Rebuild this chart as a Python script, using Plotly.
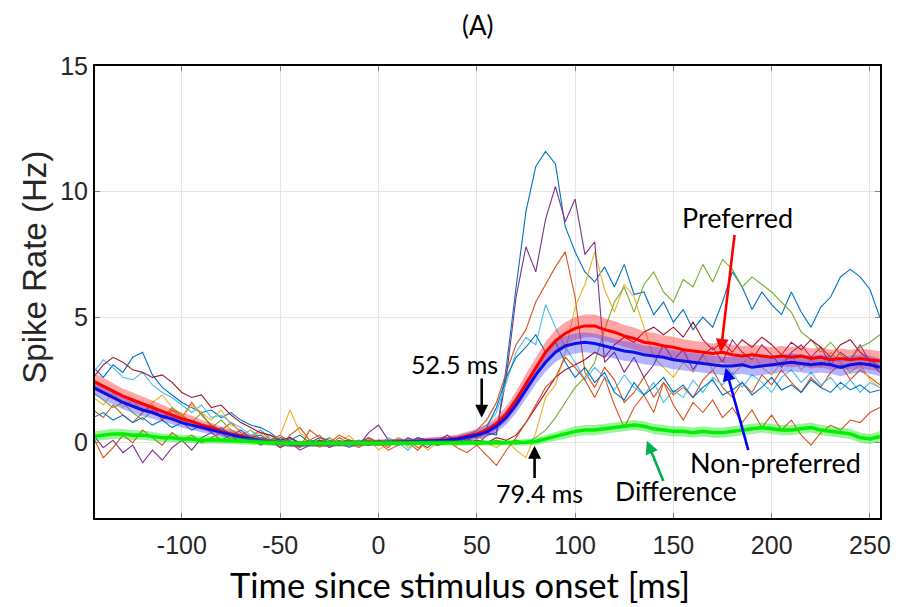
import plotly.graph_objects as go

# time axis (ms), 5 ms steps from -145 to 255
t_start, t_step, n_pts = -145, 5, 81
time_ms = [t_start + i * t_step for i in range(n_pts)]

# individual neuron traces (Hz)
neuron_blue_a = [3.0, 2.6, 3.1, 2.8, 3.4, 3.6, 2.7, 2.2, 1.9, 1.6,
                 1.4, 1.2, 1.3, 1.0, 1.2, 0.9, 0.7, 0.6, 0.4, 0.1,
                 0.2, -0.1, 0.1, 0.0, -0.1, 0.1, -0.2, 0.0, 0.1, -0.1,
                 0.0, 0.1, -0.1, 0.2, 0.0, 0.1, 0.2, 0.1, 0.3, 0.2,
                 0.4, 0.3, 3.0, 6.2, 9.2, 11.0, 11.6, 11.1, 8.6, 7.6,
                 6.8, 6.4, 7.0, 6.2, 7.1, 5.9, 6.0, 5.1, 5.6, 4.8,
                 5.3, 4.5, 5.0, 4.6, 5.6, 6.8, 6.2, 5.3, 6.0, 5.5,
                 5.1, 6.0, 5.2, 4.6, 5.4, 5.8, 6.6, 6.9, 6.6, 6.1,
                 5.0]
neuron_orange_a = [1.3, 1.0, 1.5, 1.1, 0.8, 1.2, 1.5, 0.9, 1.3, 1.0,
                   1.6, 1.1, 0.7, 0.5, 0.8, 0.4, 0.2, 0.5, 0.1, -0.2,
                   0.3, 0.6, 0.1, 0.3, -0.1, 0.2, 0.0, -0.2, 0.1, 0.0,
                   -0.2, 0.2, 0.0, -0.3, 0.1, 0.0, 0.3, 0.1, 0.2, 0.5,
                   0.9, 1.6, 2.8, 3.9, 4.5, 5.6, 6.3, 7.0, 7.6, 5.8,
                   2.8, 2.2, 3.0, 2.5, 1.6, 2.0, 2.6, 1.8, 2.4, 1.9,
                   2.2, 1.8, 2.5, 2.9, 2.2, 1.8, 2.4, 2.0, 2.7, 2.3,
                   2.9, 2.4, 2.0, 2.6, 2.2, 2.8, 3.1, 2.5, 2.9, 2.6,
                   2.3]
neuron_yellow = [1.8, 1.5, 2.0, 1.4, 1.7, 1.2, 1.6, 1.9, 1.4, 1.0,
                 1.5, 1.2, 0.9, 1.3, 0.7, 0.5, 0.2, 0.4, 0.0, 0.3,
                 1.3, 0.4, 0.1, -0.2, 0.2, 0.0, 0.3, -0.1, 0.2, -0.3,
                 0.0, 0.2, -0.2, 0.1, -0.3, 0.0, 0.2, -0.1, 0.1, 0.3,
                 0.0, -0.2, 0.1, -0.3, -0.6, 0.4, 1.8, 2.3, 3.6, 5.4,
                 6.3, 7.6, 6.1, 5.2, 6.3, 5.8, 4.6, 3.4, 3.0, 2.6,
                 3.2, 2.8, 3.5, 2.9, 3.3, 2.7, 3.1, 3.6, 3.0, 2.7,
                 3.2, 3.5, 2.9, 3.3, 3.0, 3.6, 3.2, 2.8, 3.1, 2.5,
                 2.2]
neuron_purple = [0.3, -0.2, 0.1, -0.4, -0.1, -0.8, -0.3, -0.7, -0.2, 0.1,
                 -0.3, 0.2, 0.4, 0.1, 0.3, 0.0, 0.2, -0.1, 0.1, -0.2,
                 0.0, -0.3, -0.1, 0.1, -0.2, 0.0, 0.1, -0.1, 0.4, 0.7,
                 0.1, -0.1, 0.2, 0.0, -0.2, 0.1, 0.3, 0.0, 0.2, -0.1,
                 0.3, 0.4, 2.6, 5.8, 7.8, 6.8, 8.9, 10.2, 8.8, 9.7,
                 7.5, 8.0, 3.2, 3.6, 2.8, 3.4, 2.6, 3.1, 3.9, 3.3,
                 3.7, 2.9, 3.5, 3.8, 3.2, 4.1, 3.6, 3.3, 3.9, 3.5,
                 3.0, 3.6, 3.9, 3.4, 3.8, 3.1, 3.6, 3.3, 3.9, 3.2,
                 2.8]
neuron_green = [2.0, 1.7, 1.4, 1.6, 1.2, 0.9, 1.3, 1.0, 1.4, 1.1,
                0.8, 1.2, 0.6, 0.9, 0.5, 0.3, 0.5, 0.1, 0.3, 0.0,
                0.2, -0.1, 0.1, 0.0, 0.2, -0.1, 0.0, 0.1, -0.1, 0.0,
                0.1, -0.1, 0.0, 0.1, 0.0, -0.1, 0.1, 0.0, 0.1, -0.1,
                0.0, 0.1, 0.0, 0.1, 0.0, 0.2, 0.5, 1.0, 1.6, 2.2,
                2.6, 3.2, 4.5, 5.6, 6.2, 5.2, 6.3, 6.8, 6.0, 5.6,
                6.5, 6.2, 7.1, 6.4, 7.3, 6.9, 6.2, 6.6, 6.3, 6.0,
                5.6, 5.2, 4.4, 4.1, 3.6, 4.0, 3.5, 3.3, 3.8, 4.0,
                4.3]
neuron_lightblue = [2.8, 3.3, 3.0, 2.6, 2.5, 2.8, 2.3, 2.0, 1.8, 1.5,
                    1.2, 1.5, 1.0, 1.1, 0.8, 0.6, 0.3, 0.5, 0.2, 0.0,
                    0.1, -0.2, 0.0, 0.1, -0.1, 0.0, -0.2, 0.1, 0.0, -0.1,
                    0.2, 0.0, -0.3, 0.1, -0.1, 0.0, 0.2, 0.1, 0.3, 0.5,
                    0.7, 1.2, 2.4, 3.6, 4.2, 3.9, 5.5, 4.6, 3.8, 3.2,
                    2.5, 3.0, 2.6, 2.1, 2.7, 2.2, 1.9, 2.4, 1.6, 2.1,
                    1.8, 2.5, 2.0, 2.6, 2.3, 2.8, 2.2, 2.7, 2.4, 2.0,
                    2.6, 2.9, 2.4, 2.8, 2.3, 2.6, 2.1, 2.5, 2.0, 2.4,
                    2.2]
neuron_darkred = [2.6, 3.1, 3.4, 3.2, 2.9, 2.8, 2.6, 2.7, 2.4, 2.0,
                  1.8, 1.9, 1.4, 1.5, 1.1, 0.8, 0.6, 0.4, 0.3, 0.1,
                  0.2, 0.0, -0.1, 0.1, 0.0, -0.1, 0.1, 0.0, -0.1, 0.1,
                  0.0, -0.1, 0.1, 0.0, 0.1, -0.1, 0.0, 0.1, 0.0, 0.1,
                  0.0, 0.2, 0.1, 0.3, 0.8, 1.4, 2.0, 2.6, 2.9, 3.1,
                  3.3, 3.6, 3.4, 3.9, 4.2, 4.0, 4.4, 4.6, 4.3, 4.6,
                  4.2, 4.8, 4.1, 3.7, 4.0, 3.6, 4.1, 3.8, 4.2, 3.9,
                  3.5, 4.0, 3.7, 4.1, 3.8, 3.4, 3.9, 4.1, 3.6, 3.3,
                  3.0]
neuron_blue_b = [1.0, 1.2, 0.9, 1.1, 0.8, 1.0, 0.7, 0.9, 0.6, 0.8,
                 0.5, 0.7, 0.4, 0.6, 0.3, 0.5, 0.2, 0.3, 0.0, 0.2,
                 0.1, 0.3, 0.0, 0.2, 0.1, -0.1, 0.1, 0.0, 0.2, 0.0,
                 -0.1, 0.1, 0.0, 0.2, 0.1, -0.1, 0.0, 0.2, 0.1, 0.3,
                 0.6, 1.4, 2.6, 3.4, 3.8, 4.3, 3.6, 4.0, 3.2, 2.6,
                 3.0, 2.4, 2.8, 2.0, 1.7, 2.4, 1.9, 2.2, 2.6, 2.0,
                 2.3, 1.8, 2.2, 2.5, 1.9, 2.1, 2.4, 1.9, 2.2, 2.6,
                 2.1, 2.3, 2.0, 2.5, 2.2, 2.0, 2.4, 2.1, 2.3, 2.0,
                 2.1]
neuron_orange_b = [0.2, -0.6, -0.2, 0.3, 0.0, 0.5, 0.2, -0.1, 0.4, 0.1,
                   0.3, 0.0, 0.2, 0.4, 0.1, 0.3, 0.0, 0.2, 0.1, 0.3,
                   0.0, -0.2, 0.5, 0.2, 0.0, 0.3, 0.1, -0.1, 0.2, 0.0,
                   -0.3, -0.1, 0.1, -0.2, 0.0, -0.1, 0.1, -0.2, -0.4, -0.1,
                   -0.5, -0.9, -0.3, 0.2, 0.8, 1.5, 2.2, 2.6, 3.4, 3.0,
                   2.5, 1.8, 2.6, 1.5, 0.6, 1.4, 1.9, 1.2, 2.4, 1.5,
                   0.9, 1.6, 1.2, 1.7, 1.0, 1.4, 0.8, 1.3, 0.6, 1.1,
                   0.5, 0.9, 0.3, -0.1, 0.4, 0.7, 0.5, 0.9, 0.8, 1.2,
                   1.4]

neurons = [neuron_blue_a, neuron_orange_a, neuron_yellow, neuron_purple,
           neuron_green, neuron_lightblue, neuron_darkred, neuron_blue_b,
           neuron_orange_b]
neuron_colors = ["#0072BD", "#D95319", "#EDB120", "#7E2F8E", "#77AC30",
                 "#4DBEEE", "#A2142F", "#0072BD", "#D95319"]

# population means and SEM (Hz)
preferred_mean = [2.45, 2.25, 2.05, 1.85, 1.7, 1.55, 1.4, 1.25, 1.1, 0.95,
                  0.85, 0.7, 0.6, 0.45, 0.35, 0.25, 0.15, 0.08, 0.03, 0.0,
                  -0.05, -0.05, -0.03, -0.05, -0.05, -0.02, -0.05, -0.02, 0.0, 0.0,
                  0.02, 0.03, 0.05, 0.05, 0.08, 0.1, 0.12, 0.18, 0.25, 0.35,
                  0.5, 0.75, 1.15, 1.7, 2.35, 3.0, 3.6, 4.05, 4.35, 4.55,
                  4.65, 4.65, 4.5, 4.4, 4.25, 4.15, 4.0, 3.95, 3.85, 3.8,
                  3.7, 3.65, 3.6, 3.55, 3.6, 3.5, 3.45, 3.5, 3.45, 3.4,
                  3.45, 3.4, 3.45, 3.35, 3.4, 3.3, 3.35, 3.3, 3.35, 3.3,
                  3.25]
preferred_sem = [0.35, 0.33, 0.32, 0.30, 0.30, 0.28, 0.27, 0.26, 0.25, 0.24,
                 0.22, 0.20, 0.19, 0.18, 0.17, 0.16, 0.15, 0.14, 0.13, 0.12,
                 0.12, 0.12, 0.12, 0.12, 0.12, 0.12, 0.12, 0.12, 0.12, 0.12,
                 0.12, 0.12, 0.12, 0.12, 0.13, 0.13, 0.14, 0.15, 0.17, 0.19,
                 0.22, 0.26, 0.30, 0.34, 0.38, 0.40, 0.42, 0.44, 0.45, 0.45,
                 0.45, 0.45, 0.45, 0.45, 0.44, 0.44, 0.43, 0.43, 0.42, 0.42,
                 0.42, 0.41, 0.41, 0.40, 0.40, 0.40, 0.40, 0.40, 0.40, 0.40,
                 0.40, 0.40, 0.40, 0.40, 0.40, 0.40, 0.40, 0.40, 0.40, 0.40,
                 0.40]
nonpref_mean = [2.2, 2.0, 1.8, 1.6, 1.45, 1.3, 1.2, 1.05, 0.95, 0.8,
                0.7, 0.6, 0.5, 0.4, 0.3, 0.22, 0.15, 0.08, 0.03, 0.0,
                -0.05, -0.05, -0.05, -0.05, -0.05, -0.03, -0.05, -0.03, -0.02, 0.0,
                0.02, 0.03, 0.04, 0.05, 0.07, 0.09, 0.1, 0.15, 0.22, 0.3,
                0.42, 0.65, 1.0, 1.5, 2.1, 2.7, 3.2, 3.6, 3.85, 3.95,
                4.0, 3.95, 3.85, 3.75, 3.65, 3.6, 3.5, 3.45, 3.4, 3.3,
                3.25, 3.2, 3.15, 3.1, 3.05, 3.05, 3.1, 3.0, 3.05, 3.1,
                3.15, 3.2, 3.15, 3.1, 3.15, 3.1, 3.0, 3.1, 3.15, 3.1,
                3.0]
nonpref_sem = [0.30, 0.29, 0.28, 0.27, 0.26, 0.25, 0.24, 0.23, 0.22, 0.21,
               0.20, 0.18, 0.17, 0.16, 0.15, 0.14, 0.13, 0.12, 0.12, 0.11,
               0.11, 0.11, 0.11, 0.11, 0.11, 0.11, 0.11, 0.11, 0.11, 0.11,
               0.11, 0.11, 0.11, 0.11, 0.12, 0.12, 0.13, 0.14, 0.16, 0.18,
               0.20, 0.24, 0.28, 0.32, 0.35, 0.37, 0.38, 0.39, 0.40, 0.40,
               0.40, 0.40, 0.40, 0.40, 0.39, 0.39, 0.38, 0.38, 0.38, 0.38,
               0.37, 0.37, 0.37, 0.37, 0.36, 0.36, 0.36, 0.36, 0.36, 0.36,
               0.36, 0.36, 0.36, 0.36, 0.36, 0.36, 0.36, 0.36, 0.36, 0.36,
               0.36]
diff_mean = [0.25, 0.3, 0.35, 0.35, 0.3, 0.3, 0.25, 0.2, 0.2, 0.15,
             0.15, 0.1, 0.12, 0.1, 0.08, 0.05, 0.05, 0.02, 0.0, -0.02,
             -0.03, -0.02, -0.03, -0.02, -0.03, -0.02, -0.02, -0.03, -0.02, -0.02,
             -0.02, -0.01, -0.02, -0.02, -0.01, 0.0, 0.0, 0.0, 0.0, 0.0,
             0.0, 0.0, 0.0, 0.0, 0.02, 0.05, 0.15, 0.25, 0.35, 0.45,
             0.5, 0.5, 0.55, 0.6, 0.65, 0.7, 0.65, 0.55, 0.5, 0.45,
             0.45, 0.4, 0.45, 0.4, 0.4, 0.45, 0.5, 0.55, 0.6, 0.55,
             0.5, 0.5, 0.55, 0.6, 0.5, 0.45, 0.4, 0.35, 0.2, 0.15,
             0.25]
diff_sem = [0.20, 0.20, 0.20, 0.19, 0.19, 0.18, 0.18, 0.17, 0.17, 0.16,
            0.16, 0.15, 0.15, 0.14, 0.14, 0.13, 0.13, 0.12, 0.12, 0.11,
            0.11, 0.11, 0.11, 0.11, 0.11, 0.11, 0.11, 0.11, 0.11, 0.11,
            0.11, 0.11, 0.11, 0.11, 0.11, 0.11, 0.11, 0.11, 0.11, 0.11,
            0.11, 0.11, 0.11, 0.12, 0.13, 0.14, 0.16, 0.18, 0.19, 0.20,
            0.20, 0.20, 0.20, 0.20, 0.20, 0.20, 0.20, 0.20, 0.20, 0.20,
            0.20, 0.20, 0.20, 0.20, 0.20, 0.20, 0.20, 0.20, 0.20, 0.20,
            0.20, 0.20, 0.20, 0.20, 0.20, 0.20, 0.20, 0.20, 0.20, 0.20,
            0.20]

x_ticks = [-100, -50, 0, 50, 100, 150, 200, 250]
x_tick_labels = ["-100", "-50", "0", "50", "100", "150", "200", "250"]
y_ticks = [0, 5, 10, 15]
y_tick_labels = ["0", "5", "10", "15"]
onset_pref = 52.5
onset_diff = 79.4

fig = go.Figure()

for vals, col in zip(neurons, neuron_colors):
    fig.add_trace(go.Scatter(x=time_ms, y=vals, mode="lines",
                             line=dict(color=col, width=1.1),
                             showlegend=False, hoverinfo="skip"))


def add_band(mean, sem, fillcolor):
    upper = [m + s for m, s in zip(mean, sem)]
    lower = [m - s for m, s in zip(mean, sem)]
    fig.add_trace(go.Scatter(x=time_ms + time_ms[::-1], y=upper + lower[::-1],
                             fill="toself", fillcolor=fillcolor,
                             line=dict(width=0), mode="lines",
                             showlegend=False, hoverinfo="skip"))


add_band(preferred_mean, preferred_sem, "rgba(255,40,40,0.42)")
add_band(nonpref_mean, nonpref_sem, "rgba(60,60,255,0.38)")
fig.add_trace(go.Scatter(x=time_ms, y=preferred_mean, mode="lines",
                         line=dict(color="#FF0000", width=3), name="Preferred",
                         showlegend=False))
fig.add_trace(go.Scatter(x=time_ms, y=nonpref_mean, mode="lines",
                         line=dict(color="#1010E6", width=3), name="Non-preferred",
                         showlegend=False))
add_band(diff_mean, diff_sem, "rgba(0,230,0,0.40)")
fig.add_trace(go.Scatter(x=time_ms, y=diff_mean, mode="lines",
                         line=dict(color="#00F000", width=3.5), name="Difference",
                         showlegend=False))


def arrow(x, y, ax, ay, color):
    fig.add_annotation(x=x, y=y, ax=ax, ay=ay, xref="x", yref="y",
                       axref="x", ayref="y", text="", showarrow=True,
                       arrowhead=2, arrowsize=1.0, arrowwidth=2.6,
                       arrowcolor=color)


def label(x, y, text, size):
    fig.add_annotation(x=x, y=y, xref="x", yref="y", text=text,
                       showarrow=False,
                       font=dict(family="Lato, Open Sans, sans-serif",
                                 size=size, color="black"))


arrow(onset_pref, 0.99, onset_pref, 2.62, "black")
label(38.5, 3.13, "52.5 ms", 25)
arrow(onset_diff, -0.12, onset_diff, -1.47, "black")
label(82.0, -2.02, "79.4 ms", 25)
arrow(174.1, 3.61, 181.2, 8.33, "#FF0000")
label(182.5, 8.95, "Preferred", 27)
arrow(176.6, 2.98, 188.3, -0.36, "#0000FF")
label(202.0, -0.8, "Non-preferred", 27)
arrow(136.5, 0.08, 145.2, -1.59, "#00B050")
label(151.5, -1.93, "Difference", 26.5)

# axis titles placed as text
fig.add_annotation(xref="paper", yref="paper", x=0.465, y=-0.147,
                   text="Time since stimulus onset [ms]", showarrow=False,
                   xanchor="center", yanchor="middle",
                   font=dict(family="Lato, sans-serif", size=34.5, color="black"))
fig.add_annotation(xref="paper", yref="paper", x=-0.077, y=0.555,
                   text="Spike Rate (Hz)", showarrow=False, textangle=-90,
                   xanchor="center", yanchor="middle",
                   font=dict(family="Liberation Sans, Arial, sans-serif",
                             size=33, color="#262626"))

axis_common = dict(showline=True, linecolor="black", linewidth=2,
                   mirror="ticks", ticks="inside", ticklen=5,
                   tickcolor="#7f7f7f", showgrid=True, gridcolor="#e5e5e5",
                   gridwidth=1, zeroline=False,
                   tickfont=dict(family="Liberation Sans, Arial, sans-serif",
                                 size=25, color="#262626"))

fig.update_xaxes(range=[-144.2, 255.1], tickvals=x_ticks, ticktext=x_tick_labels,
                 ticklabelstandoff=4, **axis_common)
fig.update_yaxes(range=[-3, 15], tickvals=y_ticks, ticktext=y_tick_labels,
                 **axis_common)

# the page body adds an 8 px offset; margins compensate so the plot frame
# lands at x 95-880, y 66-518 in the 900x607 window
fig.update_layout(width=900, height=607,
                  margin=dict(l=87, r=28, t=58, b=97),
                  plot_bgcolor="white", paper_bgcolor="white",
                  title=dict(text="(A)", x=0.522, xref="container",
                             xanchor="center", y=0.971, yref="container",
                             yanchor="middle",
                             font=dict(family="Lato, sans-serif", size=26,
                                       color="black")))

fig.write_html("out.html")
